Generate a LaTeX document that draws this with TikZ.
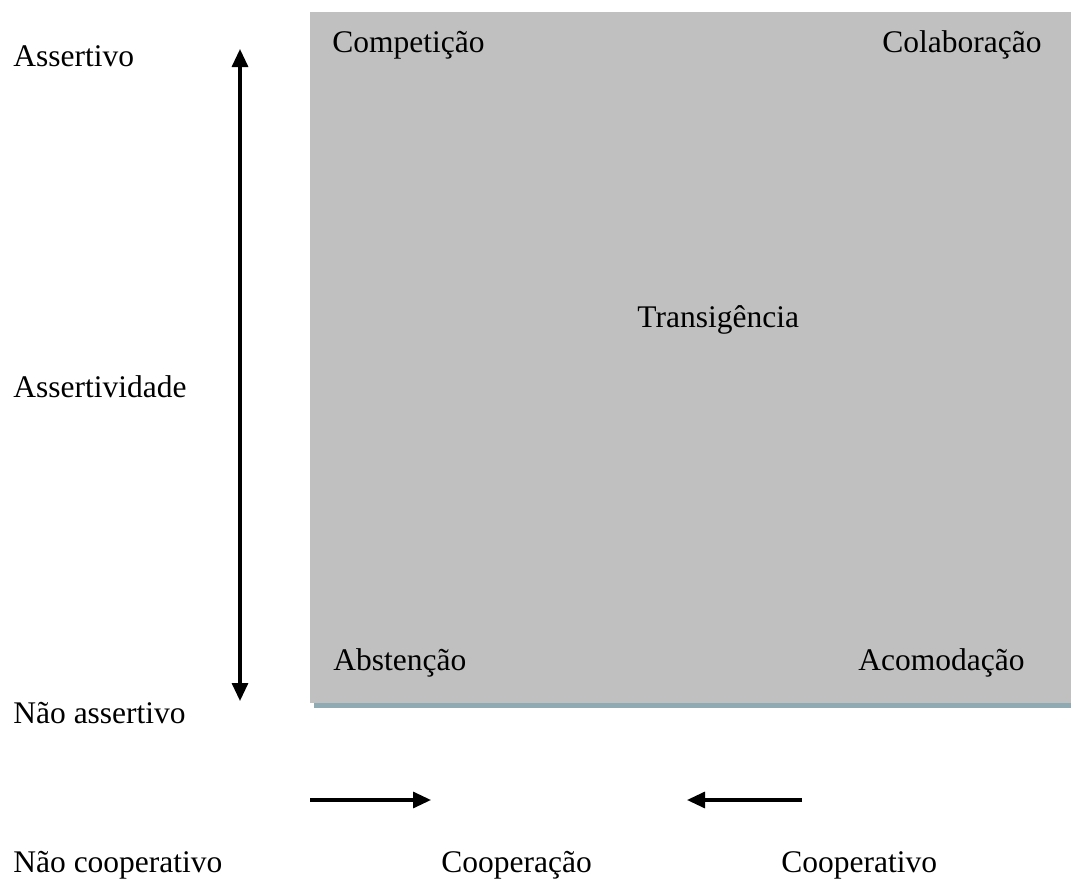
\documentclass[tikz,border=0pt]{standalone}
\usepackage{fontspec}
\setmainfont{Liberation Serif}
\usetikzlibrary{arrows.meta}
\definecolor{panel}{HTML}{C0C0C0}
\definecolor{panelshadow}{HTML}{8FAAB2}
\begin{document}
\begin{tikzpicture}[x=0.5pt,y=-0.5pt,
  lbl/.style={anchor=base west,inner sep=0pt,font=\fontsize{15.75pt}{18pt}\selectfont},
  axis/.style={line width=1.6pt,-{Triangle[width=8pt,length=9pt]}}]
  \useasboundingbox (0,0) rectangle (1073,894);
  % panel with its lower edge line
  \fill[panelshadow] (314,702) rectangle (1071,708);
  \fill[panel] (310,12) rectangle (1071,703);
  % labels inside the panel
  \node[lbl] (comp) at (332,53) {Competição};
  \node[lbl] (colab) at (882,53) {Colaboração};
  \node[lbl] (trans) at (637,327) {Transigência};
  \node[lbl] (abst) at (333,670) {Abstenção};
  \node[lbl] (acom) at (858,670) {Acomodação};
  % vertical axis
  \node[lbl] (assert) at (13,67) {Assertivo};
  \node[lbl] (assertiv) at (13,397) {Assertividade};
  \node[lbl] (nassert) at (13,723) {Não assertivo};
  \coordinate (vmid) at (240,375);
  \coordinate (vtop) at (240,49);
  \coordinate (vbot) at (240,701);
  \draw[axis] (vmid) -- (vtop);
  \draw[axis] (vmid) -- (vbot);
  % horizontal axis
  \coordinate (h1a) at (310,800);
  \coordinate (h1b) at (431,800);
  \coordinate (h2a) at (802,800);
  \coordinate (h2b) at (687,800);
  \draw[axis] (h1a) -- (h1b);
  \draw[axis] (h2a) -- (h2b);
  \node[lbl] (ncoop) at (13,872) {Não cooperativo};
  \node[lbl] (coopc) at (441,872) {Cooperação};
  \node[lbl] (coopv) at (781,872) {Cooperativo};
\end{tikzpicture}
\end{document}
